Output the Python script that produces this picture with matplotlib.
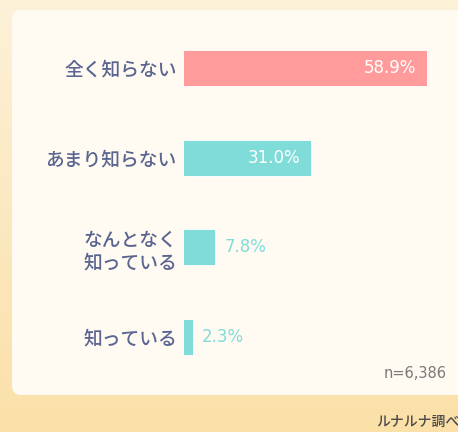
import matplotlib
matplotlib.use("Agg")
import matplotlib.pyplot as plt
import numpy as np
from matplotlib.patches import FancyBboxPatch

plt.rcParams['font.family'] = ['Noto Sans CJK JP', 'DejaVu Sans']

# data
categories = ['全く知らない', 'あまり知らない', 'なんとなく\n知っている', '知っている']
values = [58.9, 31.0, 7.8, 2.3]
bar_colors = ['#ff9b9b', '#80dcd8', '#80dcd8', '#80dcd8']
sample_note = 'n=6,386'
source_note = 'ルナルナ調べ'

W, H = 458, 432
fig = plt.figure(figsize=(W / 100, H / 100), dpi=100)

# background gradient
bg = fig.add_axes([0, 0, 1, 1])
grad = np.linspace(0, 1, 256).reshape(-1, 1)
top = np.array([253, 241, 216]) / 255
bottom = np.array([251, 224, 168]) / 255
img = top + (bottom - top) * grad[:, :, None]
bg.imshow(img, aspect='auto', extent=[0, W, H, 0])
bg.set_xlim(0, W)
bg.set_ylim(H, 0)
bg.axis('off')

# white card
card = FancyBboxPatch((12, 10), 470, 385, boxstyle='round,pad=0,rounding_size=9',
                      facecolor='#fffaf2', edgecolor='none')
bg.add_patch(card)

bg.text(447, 374, sample_note, ha='right', va='center', fontsize=10.5,
        color='#7a7a7a', family='DejaVu Sans')
bg.text(376, 422, source_note, ha='left', va='center', fontsize=10,
        color='#4a4a4a', fontweight='medium')

# bar chart
ax = fig.add_axes([183 / W, 1 - 382 / H, (427 - 183) / W, 359 / H])
ax.set_facecolor('none')
y = np.arange(len(categories))
ax.barh(y, values, height=0.4, color=bar_colors, edgecolor='#ffffff', linewidth=0.6)
ax.set_xlim(0, 58.9)
ax.set_ylim(3.5, -0.5)
ax.set_yticks(y)
ax.set_yticklabels(categories, fontsize=13.5, color='#5b6690', linespacing=1.25,
                   fontweight='medium')
ax.tick_params(axis='y', length=0, pad=4.5)
ax.set_xticks([])
for s in ax.spines.values():
    s.set_visible(False)

for i, v in enumerate(values):
    if v > 20:
        ax.text(v - 2.6, i, f'{v:.1f}%', ha='right', va='center', fontsize=12,
                color='white', family='DejaVu Sans')
    else:
        ax.text(v + 2.2, i, f'{v:.1f}%', ha='left', va='center', fontsize=12,
                color='#80dcd8', family='DejaVu Sans')

fig.savefig('out.png', dpi=100)
